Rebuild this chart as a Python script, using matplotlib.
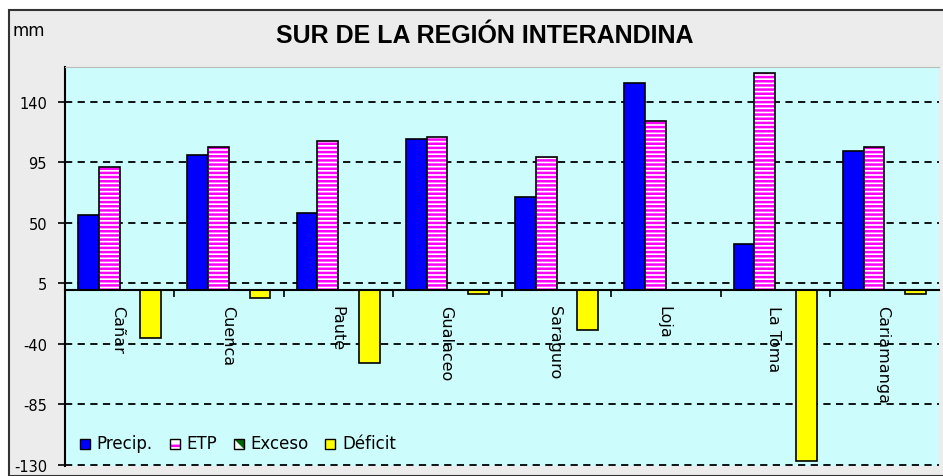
import numpy as np
import matplotlib
matplotlib.use("Agg")
import matplotlib.pyplot as plt
from matplotlib.patches import Rectangle, Polygon
from matplotlib.legend_handler import HandlerBase
import matplotlib.transforms as mtransforms

# Datos (mm)
estaciones = ["Cañar", "Cuenca", "Paute", "Gualaceo", "Saraguro", "Loja", "La Toma", "Cariamanga"]
precip = [55.7, 100.6, 57.2, 112.5, 69.1, 154.0, 34.5, 103.4]
etp = [91.4, 106.6, 111.0, 114.0, 98.9, 125.7, 161.7, 106.6]
exceso = [0, 0, 0, 0, 0, 0, 0, 0]
deficit = [-36.0, -6.2, -54.2, -3.0, -29.8, 0, -127.2, -3.0]
yticks = [-130, -85, -40, 5, 50, 95, 140]

plt.rcParams['font.family'] = ['DejaVu Sans']
plt.rcParams['hatch.linewidth'] = 1.8

fig = plt.figure(figsize=(9.43, 4.77), dpi=100)
fig.patch.set_facecolor('white')

# Marco gris del gráfico
fondo = Rectangle((9 / 943, 0), 1, 1 - 11 / 477, transform=fig.transFigure,
                  facecolor='#ececec', edgecolor='#333333', linewidth=1.5, zorder=-5)
fig.patches.append(fondo)

ax = fig.add_axes([65 / 943, 10 / 477, 874 / 943, 399 / 477])
ax.set_zorder(2)
ax.set_facecolor('#ccfcfc')

x = np.arange(len(estaciones))
w = 0.19
offs = [-1.5 * w, -0.5 * w, 0.5 * w, 1.5 * w]

ax.bar(x + offs[0], precip, w, color='#0000ff', edgecolor='black', linewidth=1.2, zorder=3)
ax.bar(x + offs[1], etp, w, color='white', edgecolor='#ff00ff', hatch='----', linewidth=0, zorder=3)
ax.bar(x + offs[1], etp, w, color='none', edgecolor='black', linewidth=1.2, zorder=4)
ax.bar(x + offs[2], exceso, w, color='#006400', edgecolor='black', linewidth=1.2, zorder=3)
ax.bar(x + offs[3], deficit, w, color='#ffff00', edgecolor='black', linewidth=1.2, zorder=3)

ax.set_xlim(-0.5, len(estaciones) - 0.5)
ax.set_ylim(-131, 166)
ax.set_yticks(yticks)
ax.set_yticklabels([str(v) for v in yticks], fontsize=10.5)
ax.set_xticks(np.arange(0.5, len(estaciones) - 0.5, 1))
ax.set_xticklabels([])
ax.tick_params(axis='y', direction='out', length=5, width=1.2, pad=8)
ax.tick_params(axis='x', direction='out', length=5, width=1.2)

ax.spines['bottom'].set_position(('data', 0))
ax.spines['bottom'].set_linewidth(1.5)
ax.spines['bottom'].set_zorder(5)
ax.spines['left'].set_linewidth(1.5)
ax.spines['right'].set_visible(False)
ax.spines['top'].set_color('#bbbbbb')

ax.set_axisbelow(True)
ax.yaxis.grid(True, color='black', linestyle=(0, (4, 3)), linewidth=1.3)

# Etiquetas de estaciones bajo el eje cero
off = mtransforms.offset_copy(ax.transData, fig=fig, x=0, y=-15, units='dots')
for i, nombre in enumerate(estaciones):
    ax.text(i - 0.015, 0, nombre, rotation=-90, ha='center', va='top',
            fontsize=11.5, transform=off)

fig.text(485 / 943, 1 - 36 / 477, "SUR DE LA REGIÓN INTERANDINA", ha='center', va='center',
         fontsize=18, fontweight='bold', family='Liberation Sans')
fig.text(12 / 943, 1 - 31 / 477, "mm", ha='left', va='center', fontsize=12)


class HandlerExceso(HandlerBase):
    def create_artists(self, legend, orig_handle, xd, yd, width, height, fontsize, trans):
        s = min(width, height)
        x0, y0 = xd + (width - s) / 2, yd + (height - s) / 2
        low = Polygon([[x0, y0], [x0 + s, y0], [x0, y0 + s]], closed=True,
                      facecolor='white', edgecolor='none', transform=trans)
        up = Polygon([[x0 + s, y0], [x0 + s, y0 + s], [x0, y0 + s]], closed=True,
                     facecolor='#006400', edgecolor='none', transform=trans)
        box = Rectangle((x0, y0), s, s, facecolor='none', edgecolor='black',
                        linewidth=1, transform=trans)
        return [low, up, box]


class HandlerCuadro(HandlerBase):
    def __init__(self, color, hatch=None, hcolor=None):
        super().__init__()
        self.color, self.hatch, self.hcolor = color, hatch, hcolor

    def create_artists(self, legend, orig_handle, xd, yd, width, height, fontsize, trans):
        s = min(width, height)
        x0, y0 = xd + (width - s) / 2, yd + (height - s) / 2
        arts = []
        if self.hatch:
            arts.append(Rectangle((x0, y0), s, s, facecolor='white', edgecolor=self.hcolor,
                                  hatch=self.hatch, linewidth=0, transform=trans))
            arts.append(Rectangle((x0, y0), s, s, facecolor='none', edgecolor='black',
                                  linewidth=1, transform=trans))
        else:
            arts.append(Rectangle((x0, y0), s, s, facecolor=self.color, edgecolor='black',
                                  linewidth=1, transform=trans))
        return arts


h1, h2, h3, h4 = object(), object(), object(), object()
ax.legend([h1, h2, h3, h4], ["Precip.", "ETP", "Exceso", "Déficit"],
          handler_map={h1: HandlerCuadro('#0000ff'),
                       h2: HandlerCuadro('white', '--', '#ff00ff'),
                       h3: HandlerExceso(),
                       h4: HandlerCuadro('#ffff00')},
          loc='lower left', bbox_to_anchor=(0.004, 0.005), ncol=4, frameon=False,
          fontsize=12, handlelength=0.6, handleheight=0.6, handletextpad=0.4,
          columnspacing=1.0, borderpad=0.2)

fig.savefig("out.png", dpi=100)
